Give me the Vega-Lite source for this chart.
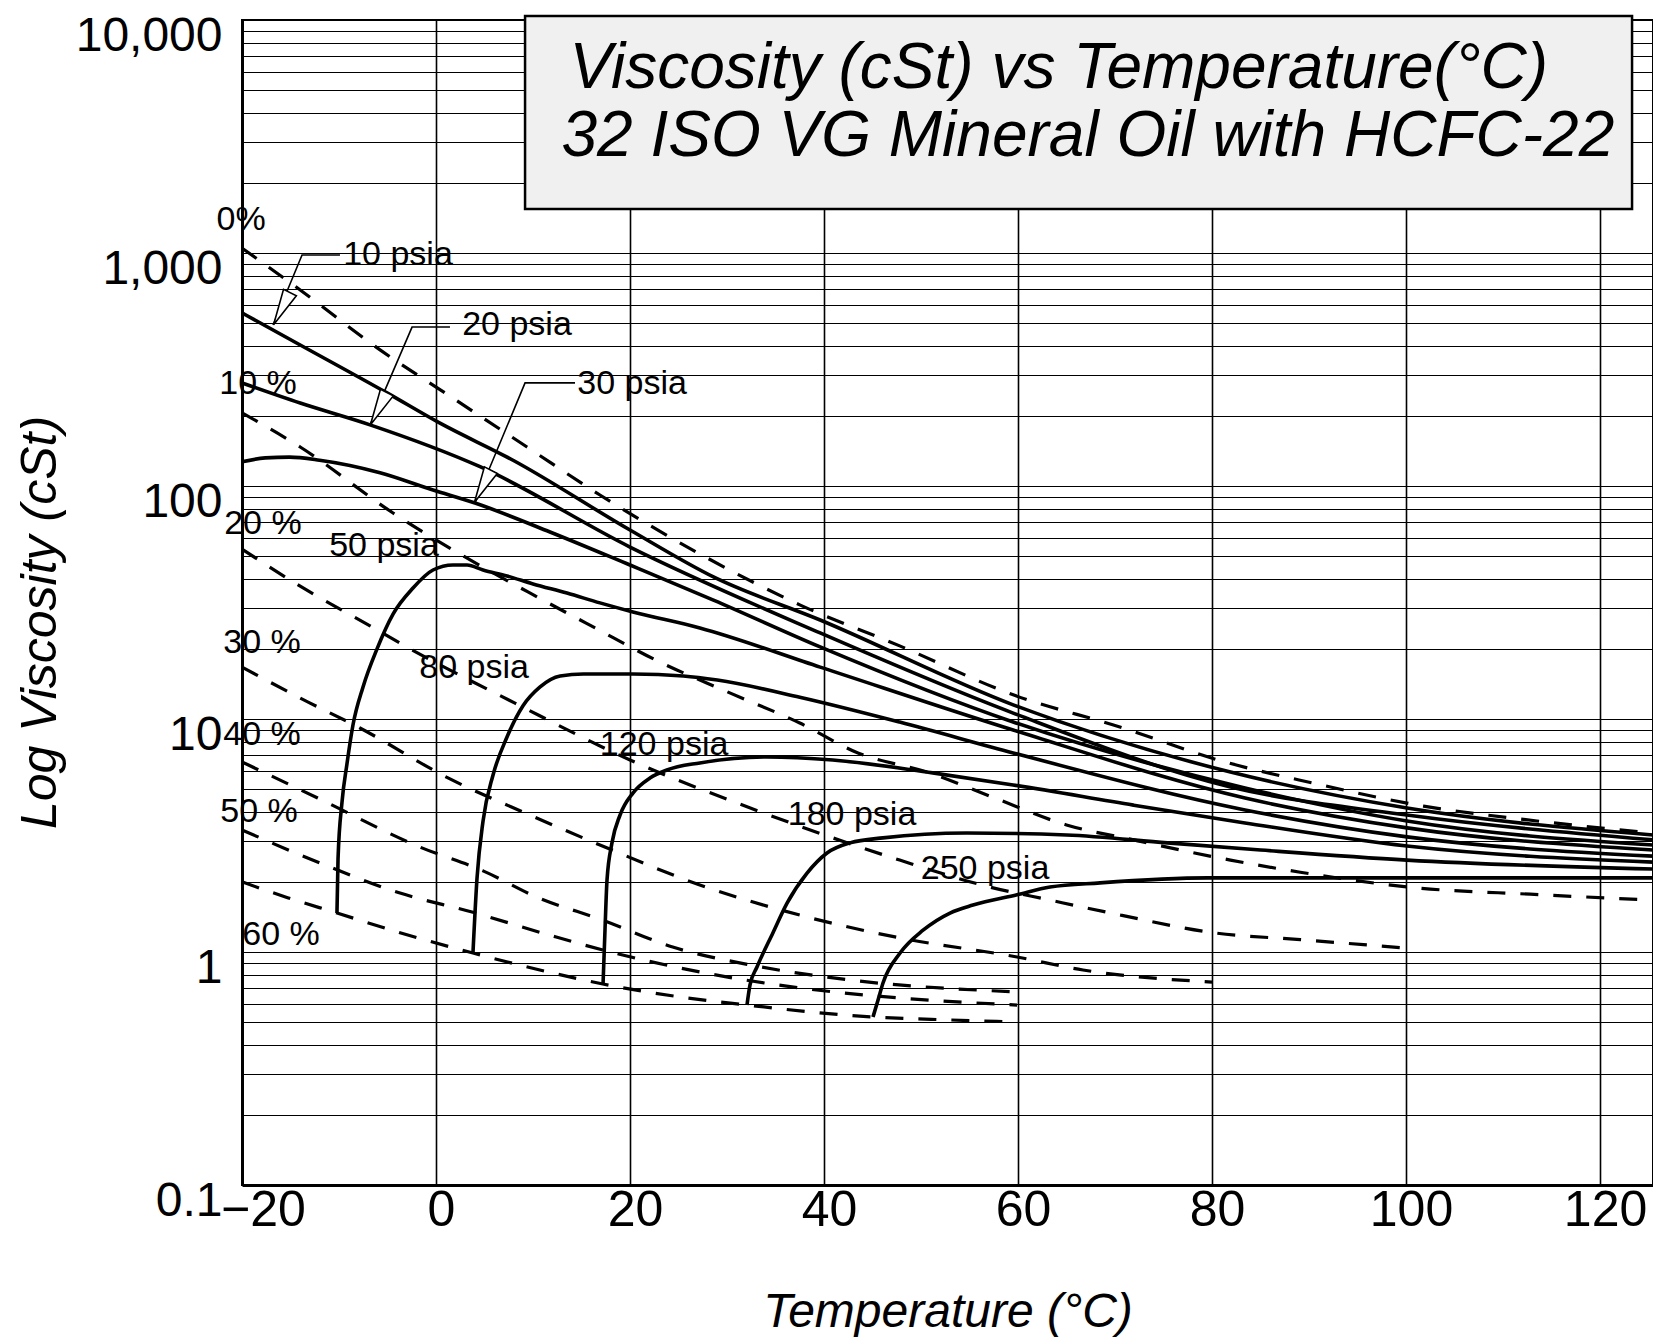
{
  "$schema": "https://vega.github.io/schema/vega-lite/v6.json",
  "width": 1411,
  "height": 1165,
  "autosize": {"type": "none"},
  "padding": {"left": 242, "top": 20, "right": 0, "bottom": 157},
  "background": "white",
  "config": {"view": {"stroke": "black", "strokeWidth": 2}, "font": "Liberation Sans"},
  "datasets": {
    "curves": [
      {"s":"0%","k":"d","t":-20,"v":1050,"i":0},{"s":"0%","k":"d","t":-14.0,"v":694,"i":1},{"s":"0%","k":"d","t":-5.77,"v":384,"i":2},{"s":"0%","k":"d","t":1.44,"v":243,"i":3},{"s":"0%","k":"d","t":9.38,"v":147,"i":4},{"s":"0%","k":"d","t":16.9,"v":91.5,"i":5},{"s":"0%","k":"d","t":27.2,"v":51.1,"i":6},{"s":"0%","k":"d","t":37.5,"v":30.9,"i":7},{"s":"0%","k":"d","t":47.8,"v":20.6,"i":8},{"s":"0%","k":"d","t":59.5,"v":12.7,"i":9},{"s":"0%","k":"d","t":70.5,"v":9.24,"i":10},{"s":"0%","k":"d","t":81.0,"v":6.6,"i":11},{"s":"0%","k":"d","t":90.4,"v":5.31,"i":12},{"s":"0%","k":"d","t":101.8,"v":4.23,"i":13},{"s":"0%","k":"d","t":113.5,"v":3.65,"i":14},{"s":"0%","k":"d","t":125.46,"v":3.24,"i":15},
      {"s":"10%","k":"d","t":-20,"v":206,"i":0},{"s":"10%","k":"d","t":-14.0,"v":147,"i":1},{"s":"10%","k":"d","t":-4.43,"v":76.6,"i":2},{"s":"10%","k":"d","t":2.99,"v":49.6,"i":3},{"s":"10%","k":"d","t":9.48,"v":35.1,"i":4},{"s":"10%","k":"d","t":16.4,"v":24.6,"i":5},{"s":"10%","k":"d","t":22.9,"v":17.7,"i":6},{"s":"10%","k":"d","t":30.0,"v":13.1,"i":7},{"s":"10%","k":"d","t":37.5,"v":9.61,"i":8},{"s":"10%","k":"d","t":43.5,"v":7.15,"i":9},{"s":"10%","k":"d","t":50.9,"v":5.87,"i":10},{"s":"10%","k":"d","t":57.6,"v":4.58,"i":11},{"s":"10%","k":"d","t":65.0,"v":3.51,"i":12},{"s":"10%","k":"d","t":71.9,"v":3.03,"i":13},{"s":"10%","k":"d","t":81.9,"v":2.48,"i":14},{"s":"10%","k":"d","t":89.1,"v":2.2,"i":15},{"s":"10%","k":"d","t":101.4,"v":1.88,"i":16},{"s":"10%","k":"d","t":112.8,"v":1.77,"i":17},{"s":"10%","k":"d","t":125.46,"v":1.67,"i":18},
      {"s":"20%","k":"d","t":-20,"v":53.6,"i":0},{"s":"20%","k":"d","t":-13.7,"v":36.5,"i":1},{"s":"20%","k":"d","t":-6.8,"v":25.1,"i":2},{"s":"20%","k":"d","t":-3.4,"v":20.8,"i":3},{"s":"20%","k":"d","t":8.14,"v":11.7,"i":4},{"s":"20%","k":"d","t":20.0,"v":6.67,"i":5},{"s":"20%","k":"d","t":32.4,"v":4.15,"i":6},{"s":"20%","k":"d","t":47.8,"v":2.48,"i":7},{"s":"20%","k":"d","t":57.1,"v":1.9,"i":8},{"s":"20%","k":"d","t":63.3,"v":1.67,"i":9},{"s":"20%","k":"d","t":70.6,"v":1.44,"i":10},{"s":"20%","k":"d","t":80.1,"v":1.21,"i":11},{"s":"20%","k":"d","t":89.1,"v":1.13,"i":12},{"s":"20%","k":"d","t":99.9,"v":1.04,"i":13},
      {"s":"30%","k":"d","t":-20,"v":16.7,"i":0},{"s":"30%","k":"d","t":-14.0,"v":12.3,"i":1},{"s":"30%","k":"d","t":-7.84,"v":9.15,"i":2},{"s":"30%","k":"d","t":1.44,"v":5.53,"i":3},{"s":"30%","k":"d","t":9.69,"v":3.87,"i":4},{"s":"30%","k":"d","t":16.9,"v":2.88,"i":5},{"s":"30%","k":"d","t":27.2,"v":1.94,"i":6},{"s":"30%","k":"d","t":37.5,"v":1.44,"i":7},{"s":"30%","k":"d","t":47.8,"v":1.15,"i":8},{"s":"30%","k":"d","t":59.9,"v":0.952,"i":9},{"s":"30%","k":"d","t":66.7,"v":0.837,"i":10},{"s":"30%","k":"d","t":80.0,"v":0.743,"i":11},
      {"s":"40%","k":"d","t":-20,"v":6.54,"i":0},{"s":"40%","k":"d","t":-12.2,"v":4.58,"i":1},{"s":"40%","k":"d","t":-1.65,"v":2.82,"i":2},{"s":"40%","k":"d","t":4.85,"v":2.23,"i":3},{"s":"40%","k":"d","t":10.4,"v":1.72,"i":4},{"s":"40%","k":"d","t":17.2,"v":1.37,"i":5},{"s":"40%","k":"d","t":24.4,"v":1.05,"i":6},{"s":"40%","k":"d","t":32.4,"v":0.88,"i":7},{"s":"40%","k":"d","t":42.7,"v":0.758,"i":8},{"s":"40%","k":"d","t":59.9,"v":0.674,"i":9},
      {"s":"50%","k":"d","t":-20,"v":3.34,"i":0},{"s":"50%","k":"d","t":-11.75,"v":2.39,"i":1},{"s":"50%","k":"d","t":-3.71,"v":1.79,"i":2},{"s":"50%","k":"d","t":3.81,"v":1.48,"i":3},{"s":"50%","k":"d","t":11.75,"v":1.18,"i":4},{"s":"50%","k":"d","t":17.2,"v":1.02,"i":5},{"s":"50%","k":"d","t":27.2,"v":0.821,"i":6},{"s":"50%","k":"d","t":37.5,"v":0.701,"i":7},{"s":"50%","k":"d","t":47.8,"v":0.635,"i":8},{"s":"50%","k":"d","t":59.9,"v":0.592,"i":9},
      {"s":"60%","k":"d","t":-20,"v":2.0,"i":0},{"s":"60%","k":"d","t":-15.3,"v":1.71,"i":1},{"s":"60%","k":"d","t":-10.2,"v":1.47,"i":2},{"s":"60%","k":"d","t":-3.71,"v":1.21,"i":3},{"s":"60%","k":"d","t":3.81,"v":0.99,"i":4},{"s":"60%","k":"d","t":10.7,"v":0.837,"i":5},{"s":"60%","k":"d","t":17.2,"v":0.729,"i":6},{"s":"60%","k":"d","t":25.2,"v":0.641,"i":7},{"s":"60%","k":"d","t":32.1,"v":0.592,"i":8},{"s":"60%","k":"d","t":38.6,"v":0.553,"i":9},{"s":"60%","k":"d","t":45.1,"v":0.526,"i":10},{"s":"60%","k":"d","t":53.0,"v":0.511,"i":11},{"s":"60%","k":"d","t":59.9,"v":0.501,"i":12},
      {"s":"10 psia","k":"s","t":-20,"v":553,"i":0},{"s":"10 psia","k":"s","t":-14.0,"v":403,"i":1},{"s":"10 psia","k":"s","t":-5.05,"v":251,"i":2},{"s":"10 psia","k":"s","t":0.41,"v":186,"i":3},{"s":"10 psia","k":"s","t":7.94,"v":129,"i":4},{"s":"10 psia","k":"s","t":20.0,"v":64.7,"i":5},{"s":"10 psia","k":"s","t":28.6,"v":40.7,"i":6},{"s":"10 psia","k":"s","t":39.6,"v":26.6,"i":7},{"s":"10 psia","k":"s","t":59.5,"v":11.5,"i":8},{"s":"10 psia","k":"s","t":81.9,"v":5.92,"i":9},{"s":"10 psia","k":"s","t":100.1,"v":4.15,"i":10},{"s":"10 psia","k":"s","t":125.46,"v":3.18,"i":11},
      {"s":"20 psia","k":"s","t":-20,"v":277,"i":0},{"s":"20 psia","k":"s","t":-14.0,"v":227,"i":1},{"s":"20 psia","k":"s","t":-6.8,"v":183,"i":2},{"s":"20 psia","k":"s","t":4.54,"v":121,"i":3},{"s":"20 psia","k":"s","t":20.0,"v":54.7,"i":4},{"s":"20 psia","k":"s","t":39.6,"v":23.4,"i":5},{"s":"20 psia","k":"s","t":59.5,"v":10.6,"i":6},{"s":"20 psia","k":"s","t":81.9,"v":5.11,"i":7},{"s":"20 psia","k":"s","t":100.1,"v":3.87,"i":8},{"s":"20 psia","k":"s","t":125.46,"v":3.03,"i":9},
      {"s":"30 psia","k":"s","t":-20,"v":127,"i":0},{"s":"30 psia","k":"s","t":-17.6,"v":132,"i":1},{"s":"30 psia","k":"s","t":-15.1,"v":133,"i":2},{"s":"30 psia","k":"s","t":-12.0,"v":129,"i":3},{"s":"30 psia","k":"s","t":-5.77,"v":114,"i":4},{"s":"30 psia","k":"s","t":-0.31,"v":96.1,"i":5},{"s":"30 psia","k":"s","t":4.02,"v":84.5,"i":6},{"s":"30 psia","k":"s","t":11.75,"v":63.5,"i":7},{"s":"30 psia","k":"s","t":20.0,"v":45.8,"i":8},{"s":"30 psia","k":"s","t":28.6,"v":32.4,"i":9},{"s":"30 psia","k":"s","t":39.6,"v":20.4,"i":10},{"s":"30 psia","k":"s","t":59.5,"v":9.71,"i":11},{"s":"30 psia","k":"s","t":83.4,"v":5.06,"i":12},{"s":"30 psia","k":"s","t":100.1,"v":3.65,"i":13},{"s":"30 psia","k":"s","t":125.46,"v":2.88,"i":14},
      {"s":"50 psia","k":"s","t":-10.21,"v":1.47,"i":0},{"s":"50 psia","k":"s","t":-10.1,"v":2.51,"i":1},{"s":"50 psia","k":"s","t":-9.69,"v":4.4,"i":2},{"s":"50 psia","k":"s","t":-9.18,"v":6.41,"i":3},{"s":"50 psia","k":"s","t":-8.56,"v":9.42,"i":4},{"s":"50 psia","k":"s","t":-7.53,"v":13.7,"i":5},{"s":"50 psia","k":"s","t":-6.08,"v":20.0,"i":6},{"s":"50 psia","k":"s","t":-4.43,"v":28.2,"i":7},{"s":"50 psia","k":"s","t":-2.37,"v":36.5,"i":8},{"s":"50 psia","k":"s","t":-0.31,"v":43.6,"i":9},{"s":"50 psia","k":"s","t":1.75,"v":45.8,"i":10},{"s":"50 psia","k":"s","t":3.2,"v":45.8,"i":11},{"s":"50 psia","k":"s","t":4.85,"v":43.6,"i":12},{"s":"50 psia","k":"s","t":7.32,"v":41.1,"i":13},{"s":"50 psia","k":"s","t":10.0,"v":38.0,"i":14},{"s":"50 psia","k":"s","t":13.5,"v":34.7,"i":15},{"s":"50 psia","k":"s","t":16.9,"v":31.5,"i":16},{"s":"50 psia","k":"s","t":20.3,"v":28.8,"i":17},{"s":"50 psia","k":"s","t":27.2,"v":24.6,"i":18},{"s":"50 psia","k":"s","t":39.6,"v":16.7,"i":19},{"s":"50 psia","k":"s","t":59.5,"v":8.97,"i":20},{"s":"50 psia","k":"s","t":83.4,"v":4.58,"i":21},{"s":"50 psia","k":"s","t":100.1,"v":3.41,"i":22},{"s":"50 psia","k":"s","t":125.46,"v":2.74,"i":23},
      {"s":"80 psia","k":"s","t":3.81,"v":0.99,"i":0},{"s":"80 psia","k":"s","t":4.23,"v":2.08,"i":1},{"s":"80 psia","k":"s","t":4.85,"v":3.65,"i":2},{"s":"80 psia","k":"s","t":5.88,"v":5.75,"i":3},{"s":"80 psia","k":"s","t":7.32,"v":8.37,"i":4},{"s":"80 psia","k":"s","t":8.97,"v":11.4,"i":5},{"s":"80 psia","k":"s","t":10.7,"v":13.7,"i":6},{"s":"80 psia","k":"s","t":12.8,"v":15.3,"i":7},{"s":"80 psia","k":"s","t":15.2,"v":15.6,"i":8},{"s":"80 psia","k":"s","t":20.3,"v":15.6,"i":9},{"s":"80 psia","k":"s","t":25.5,"v":15.3,"i":10},{"s":"80 psia","k":"s","t":29.0,"v":14.7,"i":11},{"s":"80 psia","k":"s","t":37.5,"v":12.4,"i":12},{"s":"80 psia","k":"s","t":47.8,"v":9.7,"i":13},{"s":"80 psia","k":"s","t":59.5,"v":7.15,"i":14},{"s":"80 psia","k":"s","t":83.4,"v":4.07,"i":15},{"s":"80 psia","k":"s","t":100.1,"v":3.12,"i":16},{"s":"80 psia","k":"s","t":125.46,"v":2.58,"i":17},
      {"s":"120 psia","k":"s","t":17.22,"v":0.729,"i":0},{"s":"120 psia","k":"s","t":17.42,"v":1.24,"i":1},{"s":"120 psia","k":"s","t":17.63,"v":2.04,"i":2},{"s":"120 psia","k":"s","t":18.14,"v":2.94,"i":3},{"s":"120 psia","k":"s","t":18.97,"v":3.87,"i":4},{"s":"120 psia","k":"s","t":20.3,"v":4.81,"i":5},{"s":"120 psia","k":"s","t":22.06,"v":5.58,"i":6},{"s":"120 psia","k":"s","t":23.8,"v":6.04,"i":7},{"s":"120 psia","k":"s","t":27.2,"v":6.48,"i":8},{"s":"120 psia","k":"s","t":34.1,"v":6.87,"i":9},{"s":"120 psia","k":"s","t":40.9,"v":6.67,"i":10},{"s":"120 psia","k":"s","t":51.2,"v":5.87,"i":11},{"s":"120 psia","k":"s","t":59.5,"v":5.21,"i":12},{"s":"120 psia","k":"s","t":71.9,"v":4.27,"i":13},{"s":"120 psia","k":"s","t":83.4,"v":3.58,"i":14},{"s":"120 psia","k":"s","t":100.1,"v":2.85,"i":15},{"s":"120 psia","k":"s","t":125.46,"v":2.43,"i":16},
      {"s":"180 psia","k":"s","t":32.06,"v":0.592,"i":0},{"s":"180 psia","k":"s","t":32.37,"v":0.722,"i":1},{"s":"180 psia","k":"s","t":33.09,"v":0.862,"i":2},{"s":"180 psia","k":"s","t":34.74,"v":1.21,"i":3},{"s":"180 psia","k":"s","t":36.19,"v":1.62,"i":4},{"s":"180 psia","k":"s","t":38.25,"v":2.18,"i":5},{"s":"180 psia","k":"s","t":40.31,"v":2.66,"i":6},{"s":"180 psia","k":"s","t":42.68,"v":2.94,"i":7},{"s":"180 psia","k":"s","t":46.08,"v":3.09,"i":8},{"s":"180 psia","k":"s","t":54.7,"v":3.24,"i":9},{"s":"180 psia","k":"s","t":65.0,"v":3.18,"i":10},{"s":"180 psia","k":"s","t":75.4,"v":2.94,"i":11},{"s":"180 psia","k":"s","t":85.0,"v":2.74,"i":12},{"s":"180 psia","k":"s","t":100.1,"v":2.48,"i":13},{"s":"180 psia","k":"s","t":125.46,"v":2.27,"i":14},
      {"s":"250 psia","k":"s","t":45.05,"v":0.526,"i":0},{"s":"250 psia","k":"s","t":45.57,"v":0.622,"i":1},{"s":"250 psia","k":"s","t":46.08,"v":0.736,"i":2},{"s":"250 psia","k":"s","t":47.84,"v":0.99,"i":3},{"s":"250 psia","k":"s","t":50.21,"v":1.24,"i":4},{"s":"250 psia","k":"s","t":52.99,"v":1.47,"i":5},{"s":"250 psia","k":"s","t":55.36,"v":1.59,"i":6},{"s":"250 psia","k":"s","t":59.9,"v":1.76,"i":7},{"s":"250 psia","k":"s","t":63.3,"v":1.9,"i":8},{"s":"250 psia","k":"s","t":68.45,"v":1.98,"i":9},{"s":"250 psia","k":"s","t":79.6,"v":2.08,"i":10},{"s":"250 psia","k":"s","t":99.4,"v":2.08,"i":11},{"s":"250 psia","k":"s","t":125.46,"v":2.08,"i":12}
    ],
    "leaders": [
      {"s":"L10","t":-9.9,"v":980,"i":0},{"s":"L10","t":-13.81,"v":980,"i":1},{"s":"L10","t":-16.8,"v":491,"i":2},
      {"s":"L20","t":1.44,"v":481,"i":0},{"s":"L20","t":-2.47,"v":481,"i":1},{"s":"L20","t":-6.8,"v":183,"i":2},
      {"s":"L30","t":14.33,"v":277,"i":0},{"s":"L30","t":9.18,"v":277,"i":1},{"s":"L30","t":4.02,"v":84.5,"i":2}
    ],
    "arrows": [
      {"t":-15.9,"v":577},{"t":-5.91,"v":214.7},{"t":4.81,"v":99.8}
    ],
    "labels": [
      {"txt":"0%","t":-20.1,"v":1386},
      {"txt":"10 %","t":-18.35,"v":274},
      {"txt":"20 %","t":-17.84,"v":68.7},
      {"txt":"30 %","t":-17.94,"v":21.2},
      {"txt":"40 %","t":-17.94,"v":8.54},
      {"txt":"50 %","t":-18.25,"v":3.99},
      {"txt":"60 %","t":-15.98,"v":1.18},
      {"txt":"10 psia","t":-3.92,"v":980},
      {"txt":"20 psia","t":8.35,"v":491},
      {"txt":"30 psia","t":20.21,"v":274},
      {"txt":"50 psia","t":-5.36,"v":55.3},
      {"txt":"80 psia","t":3.92,"v":16.6},
      {"txt":"120 psia","t":23.51,"v":7.73},
      {"txt":"180 psia","t":42.89,"v":3.87},
      {"txt":"250 psia","t":56.6,"v":2.27}
    ],
    "titlebox": [{"t":9.18,"t2":123.3,"v":10404,"v2":1545}],
    "titletext": [
      {"txt":"Viscosity (cSt) vs Temperature(°C)","t":64.2,"v":6163},
      {"txt":"32 ISO VG Mineral Oil with HCFC-22","t":67.2,"v":3147}
    ]
  },
  "encoding": {
    "x": {
      "field": "t", "type": "quantitative",
      "scale": {"domain": [-20, 125.46], "nice": false, "zero": false},
      "axis": {
        "values": [-20, 0, 20, 40, 60, 80, 100, 120],
        "grid": true, "gridColor": "black", "gridWidth": 1.6, "gridOpacity": 1,
        "ticks": false, "domainColor": "black", "domainWidth": 3,
        "labelFontSize": 50, "labelColor": "black", "labelPadding": 0, "labelFlush": false, "labelOverlap": false,
        "labelOffset": {"condition": {"test": "datum.value == -20", "value": 21}, "value": 5},
        "title": "Temperature (°C)", "titleFontSize": 48, "titleFontStyle": "italic", "titleFontWeight": "normal",
        "titleColor": "black", "titleY": 127, "titleBaseline": "middle"
      }
    },
    "y": {
      "field": "v", "type": "quantitative",
      "scale": {"type": "log", "domain": [0.1, 10000], "nice": false},
      "axis": {
        "values": [0.1,0.2,0.3,0.4,0.5,0.6,0.7,0.8,0.9,1,2,3,4,5,6,7,8,9,10,20,30,40,50,60,70,80,90,100,200,300,400,500,600,700,800,900,1000,2000,3000,4000,5000,6000,7000,8000,9000,10000],
        "format": ",",
        "labelExpr": "indexof([0.1,1,10,100,1000,10000], datum.value) >= 0 ? datum.label : ''",
        "grid": true, "gridColor": "black", "gridWidth": 1.2, "gridOpacity": 1,
        "ticks": false, "domainColor": "black", "domainWidth": 3,
        "labelFontSize": 48, "labelColor": "black", "labelPadding": 20, "labelOffset": 16, "labelOverlap": false, "labelFlush": false,
        "title": "Log Viscosity (cSt)", "titleFontSize": 50, "titleFontStyle": "italic", "titleFontWeight": "normal",
        "titleColor": "black", "titleX": -202, "titleY": 602, "titleAngle": 270, "titleAlign": "center", "titleBaseline": "middle"
      }
    }
  },
  "layer": [
    {
      "data": {"name": "titlebox"},
      "mark": {"type": "rect", "fill": "#f0f0f0", "stroke": "black", "strokeWidth": 2.5},
      "encoding": {"x2": {"field": "t2"}, "y2": {"field": "v2"}}
    },
    {
      "data": {"name": "curves"},
      "transform": [{"filter": "datum.k == 'd'"}],
      "mark": {"type": "line", "color": "black", "strokeWidth": 3.2, "strokeDash": [18, 15], "interpolate": "monotone"},
      "encoding": {"detail": {"field": "s"}, "order": {"field": "i", "type": "quantitative"}}
    },
    {
      "data": {"name": "curves"},
      "transform": [{"filter": "datum.k == 's'"}],
      "mark": {"type": "line", "color": "black", "strokeWidth": 3.6, "interpolate": "monotone"},
      "encoding": {"detail": {"field": "s"}, "order": {"field": "i", "type": "quantitative"}}
    },
    {
      "data": {"name": "leaders"},
      "mark": {"type": "line", "color": "black", "strokeWidth": 1.6},
      "encoding": {"detail": {"field": "s"}, "order": {"field": "i", "type": "quantitative"}}
    },
    {
      "data": {"name": "arrows"},
      "mark": {"type": "point", "shape": "M0,1L-0.4,-1L0.4,-1Z", "size": 1300, "angle": 27, "filled": true, "fill": "white", "stroke": "black", "strokeWidth": 1.6, "opacity": 1}
    },
    {
      "data": {"name": "labels"},
      "mark": {"type": "text", "fontSize": 34, "color": "black", "align": "center", "baseline": "middle"},
      "encoding": {"text": {"field": "txt"}}
    },
    {
      "data": {"name": "titletext"},
      "mark": {"type": "text", "fontSize": 64, "fontStyle": "italic", "color": "black", "align": "center", "baseline": "middle"},
      "encoding": {"text": {"field": "txt"}}
    }
  ]
}
